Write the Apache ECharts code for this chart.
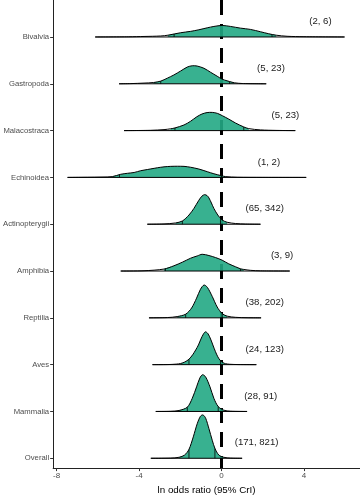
<!DOCTYPE html>
<html><head><meta charset="utf-8">
<script src="https://cdn.jsdelivr.net/npm/echarts@6/dist/echarts.min.js"></script>
<style>html,body{margin:0;padding:0;background:#fff}#c{width:360px;height:500px}</style>
</head><body><div id="c"></div>
<script>
// Categories, top to bottom
const taxa = ['Bivalvia','Gastropoda','Malacostraca','Echinoidea','Actinopterygii','Amphibia','Reptilia','Aves','Mammalia','Overall'];
// Count annotations and their x location (ln odds ratio units)
const counts = ['(2, 6)','(5, 23)','(5, 23)','(1, 2)','(65, 342)','(3, 9)','(38, 202)','(24, 123)','(28, 91)','(171, 821)'];
const countX = [4.8, 2.4, 3.1, 2.3, 2.1, 2.94, 2.1, 2.1, 1.9, 1.7];

// Posterior density curves (x = ln odds ratio, h = density height in row units)
const bivalviaX = [-6.13,-4.5,-3.76,-2.95,-2.6,-1.98,-1.5,-1.1,-0.69,-0.37,0.03,0.44,0.92,1.4,1.89,2.29,2.65,3.18,4.0,5.97];
const bivalviaH = [0,0.004,0.011,0.021,0.038,0.091,0.12,0.154,0.196,0.225,0.246,0.225,0.189,0.162,0.112,0.069,0.038,0.015,0.006,0];
const gastropodaX = [-4.97,-4.4,-3.76,-3.3,-2.95,-2.63,-2.31,-1.98,-1.66,-1.42,-1.18,-0.85,-0.53,-0.21,0.03,0.27,0.39,0.63,1.0,2.17];
const gastropodaH = [0,0.004,0.015,0.027,0.057,0.12,0.189,0.274,0.358,0.385,0.379,0.331,0.246,0.162,0.099,0.063,0.048,0.021,0.006,0];
const malacostracaX = [-4.73,-3.44,-2.79,-2.47,-2.26,-1.82,-1.5,-1.2,-0.95,-0.7,-0.45,-0.2,0.05,0.35,0.68,1.08,1.32,1.89,2.69,3.58];
const malacostracaH = [0,0.006,0.021,0.038,0.057,0.12,0.2,0.295,0.354,0.385,0.389,0.368,0.316,0.246,0.162,0.078,0.042,0.015,0.004,0];
const echinoideaX = [-7.47,-6.5,-5.8,-5.3,-4.89,-4.56,-4.24,-3.92,-3.6,-3.27,-2.95,-2.63,-2.3,-1.98,-1.82,-1.5,-1.1,-0.69,-0.37,0,0.2,0.76,2.0,4.11];
const echinoideaH = [0,0.004,0.008,0.017,0.067,0.088,0.105,0.143,0.168,0.194,0.217,0.232,0.238,0.238,0.236,0.217,0.179,0.122,0.078,0.036,0.017,0.004,0.001,0];
const actinopterygiiX = [-3.6,-2.79,-2.23,-1.9,-1.58,-1.34,-1.1,-0.95,-0.82,-0.7,-0.61,-0.49,-0.37,-0.18,0.03,0.27,0.68,1.16,1.89];
const actinopterygiiH = [0,0.006,0.027,0.069,0.196,0.337,0.512,0.6,0.632,0.611,0.562,0.453,0.337,0.196,0.091,0.042,0.015,0.004,0];
const amphibiaX = [-4.89,-3.76,-2.79,-2.31,-1.9,-1.5,-1.18,-0.94,-0.61,-0.29,0.03,0.35,0.68,0.92,1.08,1.4,1.89,3.31];
const amphibiaH = [0,0.006,0.042,0.112,0.189,0.274,0.322,0.358,0.331,0.288,0.232,0.154,0.091,0.048,0.034,0.015,0.004,0];
const reptiliaX = [-3.52,-2.63,-2.15,-1.74,-1.45,-1.21,-1.02,-0.85,-0.69,-0.45,-0.21,0.03,0.27,0.68,1.24,1.92];
const reptiliaH = [0,0.006,0.027,0.078,0.211,0.421,0.611,0.701,0.653,0.457,0.232,0.091,0.036,0.011,0.002,0];
const avesX = [-3.35,-2.6,-2.2,-1.98,-1.78,-1.58,-1.4,-1.25,-1.12,-1.0,-0.88,-0.78,-0.66,-0.53,-0.42,-0.3,-0.18,-0.05,0.08,0.19,0.4,0.8,1.69];
const avesH = [0,0.002,0.011,0.025,0.057,0.116,0.211,0.316,0.421,0.547,0.653,0.701,0.663,0.547,0.421,0.284,0.168,0.084,0.042,0.021,0.008,0.002,0];
const mammaliaX = [-3.19,-2.47,-2.06,-1.66,-1.42,-1.21,-1.05,-0.92,-0.77,-0.56,-0.37,-0.16,0.11,0.44,1.24];
const mammaliaH = [0,0.004,0.021,0.091,0.28,0.526,0.716,0.785,0.737,0.526,0.28,0.105,0.027,0.006,0];
const overallX = [-3.43,-2.47,-2.06,-1.79,-1.58,-1.37,-1.18,-1.02,-0.9,-0.77,-0.61,-0.45,-0.32,-0.13,0.11,0.44,1.0];
const overallH = [0,0.004,0.021,0.069,0.189,0.457,0.737,0.899,0.926,0.857,0.632,0.385,0.211,0.069,0.021,0.004,0];

// Shaded interval limits and quantile lines
const fillLo = [-2.6,-3.3,-2.47,-5.3,-2.23,-2.79,-2.15,-1.98,-2.06,-2.06];
const fillHi = [2.65,0.63,1.32,0.2,0.27,1.08,0.27,0.19,0.11,0.11];
const qLo = [-2.3,-2.95,-2.26,-4.95,-1.9,-2.72,-1.74,-1.58,-1.66,-1.58];
const qHi = [2.45,0.39,1.08,0.0,-0.05,0.92,0.03,-0.05,-0.16,-0.32];

const xTicks = [-8,-4,0,4];
const yTicks = [1,2,3,4,5,6,7,8,9,10];

const curveX = [bivalviaX,gastropodaX,malacostracaX,echinoideaX,actinopterygiiX,amphibiaX,reptiliaX,avesX,mammaliaX,overallX];
const curveH = [bivalviaH,gastropodaH,malacostracaH,echinoideaH,actinopterygiiH,amphibiaH,reptiliaH,avesH,mammaliaH,overallH];

const FONT = '"Liberation Sans", Arial, sans-serif';
const SMOOTH = 0.3;

function hAt(xs, hs, x) {
  if (x <= xs[0]) return hs[0];
  for (let k = 1; k < xs.length; k++) {
    if (x <= xs[k]) {
      const t = (x - xs[k-1]) / (xs[k] - xs[k-1]);
      return hs[k-1] + t * (hs[k] - hs[k-1]);
    }
  }
  return hs[hs.length-1];
}

function renderItem(params, api) {
  const i = params.dataIndex;
  const pos = taxa.length - i;
  const xs = curveX[i], hs = curveH[i];
  const c = (x, y) => api.coord([x, y]);
  const outline = xs.map((x, k) => c(x, pos + hs[k]));
  const lo = fillLo[i], hi = fillHi[i];
  const fillPts = [c(lo, pos), c(lo, pos + hAt(xs, hs, lo))];
  xs.forEach((x, k) => { if (x > lo && x < hi) fillPts.push(c(x, pos + hs[k])); });
  fillPts.push(c(hi, pos + hAt(xs, hs, hi)));
  fillPts.push(c(hi, pos));
  const children = [
    { type: 'polyline', shape: { points: fillPts, smooth: SMOOTH },
      style: { fill: 'rgba(34,168,132,0.9)', stroke: null } },
    { type: 'line', shape: { x1: outline[0][0], y1: c(0,pos)[1], x2: outline[outline.length-1][0], y2: c(0,pos)[1] },
      style: { stroke: '#000', lineWidth: 1 } },
  ];
  [qLo[i], qHi[i]].forEach(q => {
    const p0 = c(q, pos), p1 = c(q, pos + hAt(xs, hs, q));
    children.push({ type: 'line', shape: { x1: p0[0], y1: p0[1], x2: p1[0], y2: p1[1] },
      style: { stroke: '#000', lineWidth: 0.8 } });
  });
  children.push({ type: 'polyline', shape: { points: outline, smooth: SMOOTH },
    style: { fill: null, stroke: '#000', lineWidth: 1 } });
  const tp = c(countX[i], pos + 0.33);
  children.push({ type: 'text', x: tp[0], y: tp[1],
    style: { text: counts[i], align: 'center', verticalAlign: 'middle',
      font: '9.6px ' + FONT, fill: '#1a1a1a' } });
  return { type: 'group', children };
}

const chart = echarts.init(document.getElementById('c'), null, { renderer: 'canvas' });
chart.setOption({
  animation: false,
  backgroundColor: '#fff',
  grid: { left: 52, right: 0, top: 0, bottom: 25 },
  xAxis: {
    type: 'value', min: -8.17, max: 6.72,
    axisLine: { show: true, onZero: false, lineStyle: { color: '#222', width: 1 } },
    axisTick: { show: true, length: 3, customValues: xTicks, lineStyle: { color: '#333', width: 1 } },
    axisLabel: { customValues: xTicks, fontSize: 8, color: '#4d4d4d', margin: 4, fontFamily: FONT },
    splitLine: { show: false },
    name: 'ln odds ratio (95% CrI)', nameLocation: 'middle', nameGap: 13,
    nameTextStyle: { fontSize: 9.8, color: '#000', fontFamily: FONT }
  },
  yAxis: {
    type: 'value', min: 0.79, max: 10.79,
    axisLine: { show: true, onZero: false, lineStyle: { color: '#222', width: 1 } },
    axisTick: { show: true, length: 3, customValues: yTicks, lineStyle: { color: '#333', width: 1 } },
    axisLabel: { customValues: yTicks, fontSize: 7.7, color: '#4d4d4d', margin: 4, fontFamily: FONT,
      formatter: v => taxa[taxa.length - Math.round(v)] },
    splitLine: { show: false }
  },
  series: [
    { type: 'line', z: 1, data: [[0, 10.79], [0, 0.79]], symbol: 'none', silent: true,
      lineStyle: { color: '#000', width: 3, type: [15, 9] } },
    { type: 'custom', z: 2, clip: false, renderItem,
      data: taxa.map((t, i) => [countX[i], taxa.length - i]), encode: { x: 0, y: 1 } }
  ]
});
</script></body></html>
